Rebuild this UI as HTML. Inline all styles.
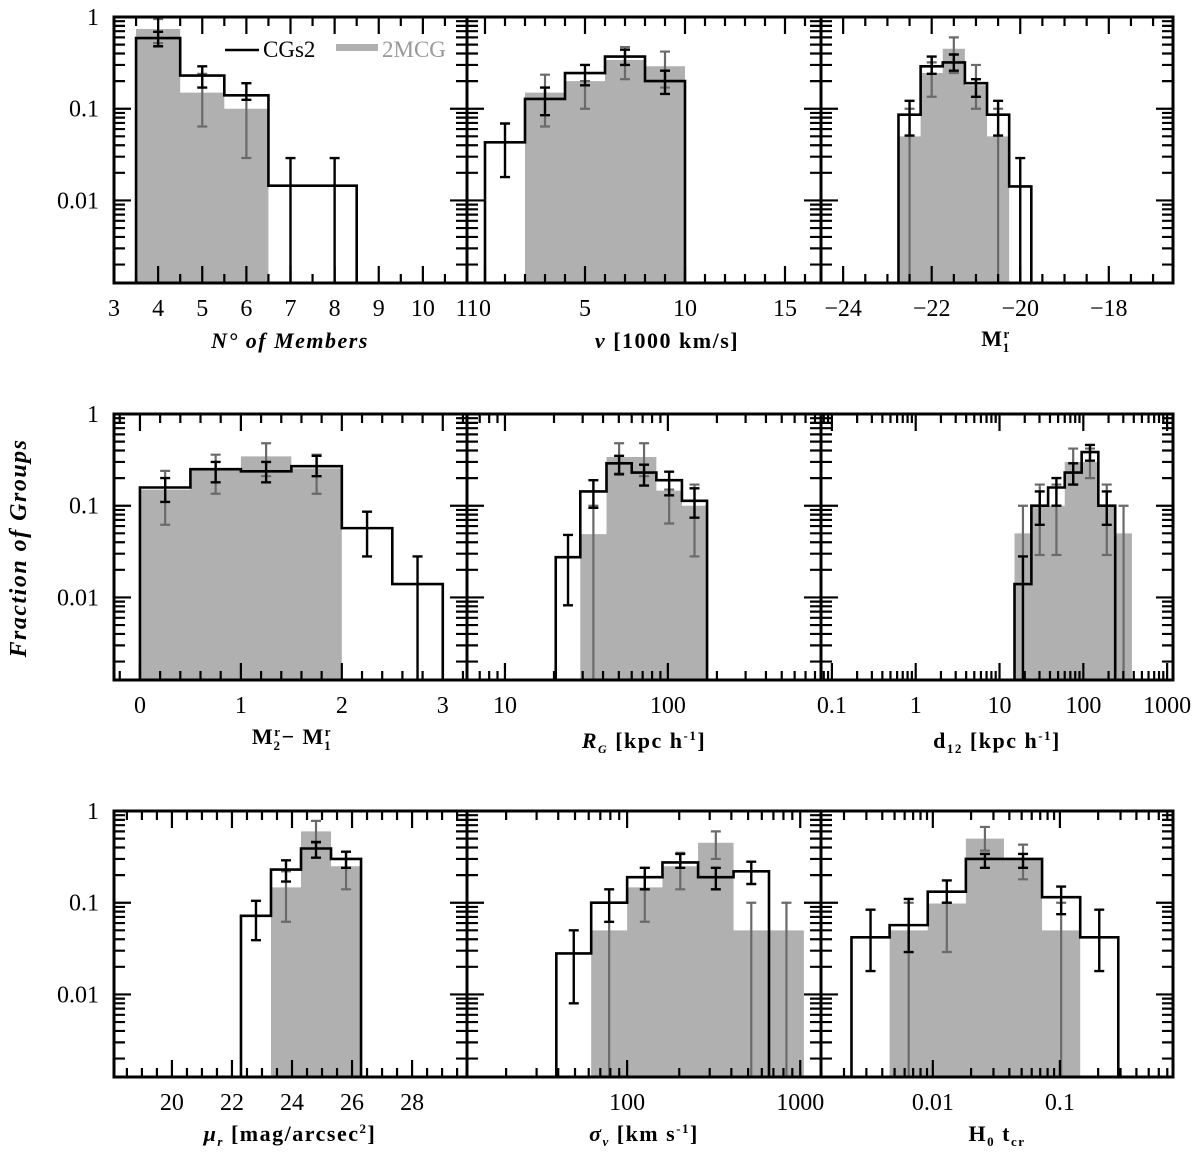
<!DOCTYPE html>
<html><head><meta charset="utf-8"><style>
html,body{margin:0;padding:0;background:#fff;}
svg{display:block;font-family:"Liberation Serif",serif;}
</style></head><body>
<svg id="chart" width="1200" height="1158" viewBox="0 0 1200 1158" xmlns="http://www.w3.org/2000/svg"></svg>
<script>
// ---- data (fractions of groups) ----
const p1Edges=[3.5,4.5,5.5,6.5,7.5,8.5];
const p1CG=[0.59,0.23,0.14,0.0145,0.0145];
const p1CGhi=[0.69,0.29,0.19,0.029,0.029];
const p1CGlo=[0.48,0.17,0.125,0,0];
const p1MEdges=[3.5,4.5,5.5,6.5];
const p1M=[0.74,0.15,0.1];
const p1Mhi=[0.95,0.24,0.19];
const p1Mlo=[0.52,0.064,0.029];

const p2Edges=[0,2,4,6,8,10];
const p2CG=[0.043,0.128,0.245,0.37,0.2];
const p2CGhi=[0.069,0.17,0.3,0.44,0.26];
const p2CGlo=[0.018,0.085,0.18,0.3,0.145];
const p2MEdges=[2,4,6,8,10];
const p2M=[0.15,0.2,0.34,0.29];
const p2Mhi=[0.235,0.2,0.47,0.42];
const p2Mlo=[0.064,0.1,0.21,0.17];

const p3Edges=[-22.75,-22.25,-21.75,-21.25,-20.75,-20.25,-19.75];
const p3CG=[0.086,0.29,0.32,0.19,0.086,0.0142];
const p3CGhi=[0.122,0.37,0.39,0.21,0.122,0.029];
const p3CGlo=[0.051,0.24,0.26,0.135,0.051,0];
const p3MEdges=[-22.75,-22.25,-21.75,-21.25,-20.75,-20.25];
const p3M=[0.05,0.245,0.45,0.18,0.05];
const p3Mhi=[0.1,0.32,0.6,0.3,0.1];
const p3Mlo=[0,0.135,0.245,0.1,0];

const p4Edges=[0,0.5,1,1.5,2,2.5,3];
const p4CG=[0.158,0.25,0.237,0.27,0.057,0.014];
const p4CGhi=[0.2,0.3,0.3,0.35,0.086,0.028];
const p4CGlo=[0.11,0.18,0.18,0.21,0.028,0];
const p4MEdges=[0,0.5,1,1.5,2];
const p4M=[0.15,0.25,0.345,0.255];
const p4Mhi=[0.24,0.36,0.48,0.36];
const p4Mlo=[0.062,0.135,0.21,0.135];

const p5Edges=[20.5,29,42,60,85,122,174];
const p5CG=[0.0275,0.143,0.29,0.23,0.19,0.113];
const p5CGhi=[0.048,0.19,0.35,0.28,0.235,0.155];
const p5CGlo=[0.0082,0.095,0.22,0.166,0.13,0.074];
const p5MEdges=[29,42,60,85,122,174];
const p5M=[0.049,0.34,0.34,0.146,0.1];
const p5Mhi=[0.1,0.48,0.48,0.15,0.17];
const p5Mlo=[0,0.225,0.21,0.064,0.028];

const p6Edges=[15.1,24,38,60,95.5,151,240];
const p6CG=[0.014,0.1,0.158,0.23,0.385,0.1];
const p6CGhi=[0.028,0.143,0.2,0.29,0.46,0.143];
const p6CGlo=[0,0.062,0.1,0.17,0.31,0.062];
const p6MEdges=[15.1,24,38,60,95.5,151,240,380];
const p6M=[0.05,0.1,0.1,0.3,0.3,0.1,0.05];
const p6Mhi=[0.1,0.17,0.17,0.42,0.42,0.17,0.1];
const p6Mlo=[0,0.029,0.029,0.17,0.2,0.029,0];

const p7Edges=[22.3,23.3,24.3,25.3,26.3];
const p7CG=[0.072,0.23,0.39,0.3];
const p7CGhi=[0.105,0.29,0.46,0.36];
const p7CGlo=[0.039,0.17,0.31,0.24];
const p7MEdges=[23.3,24.3,25.3,26.3];
const p7M=[0.147,0.6,0.25];
const p7Mhi=[0.22,0.78,0.36];
const p7Mlo=[0.062,0.45,0.14];

const p8Edges=[39,62,100,160,257,412,660];
const p8CG=[0.028,0.1,0.19,0.275,0.19,0.22];
const p8CGhi=[0.05,0.14,0.24,0.34,0.24,0.28];
const p8CGlo=[0.008,0.062,0.14,0.24,0.14,0.16];
const p8MEdges=[62,100,160,257,412,660,1050];
const p8M=[0.05,0.147,0.25,0.45,0.05,0.05];
const p8Mhi=[0.1,0.24,0.35,0.6,0.1,0.1];
const p8Mlo=[0,0.062,0.14,0.3,0,0];

const p9Edges=[0.00229,0.00457,0.00912,0.0182,0.0363,0.0724,0.1445,0.288];
const p9CG=[0.042,0.057,0.132,0.3,0.3,0.115,0.042];
const p9CGhi=[0.084,0.11,0.175,0.34,0.34,0.15,0.084];
const p9CGlo=[0.018,0.029,0.1,0.24,0.24,0.075,0.018];
const p9MEdges=[0.00457,0.00912,0.0182,0.0363,0.0724,0.1445];
const p9M=[0.05,0.098,0.5,0.3,0.05];
const p9Mhi=[0.1,0.1,0.67,0.43,0.1];
const p9Mlo=[0,0.029,0.37,0.18,0];

const yTickValues=[1,0.1,0.01];
const yTickLabels=["1","0.1","0.01"];

const p1Ticks=[3,4,5,6,7,8,9,10,11];
const p2Ticks=[0,5,10,15];
const p3Ticks=[-24,-22,-20,-18];
const p4Ticks=[0,1,2,3];
const p5Ticks=[10,100];
const p6Ticks=[0.1,1,10,100,1000];
const p7Ticks=[20,22,24,26,28];
const p8Ticks=[100,1000];
const p9Ticks=[0.01,0.1];

// ---- layout ----
const NS="http://www.w3.org/2000/svg";
const svg=document.getElementById('chart');
const colX=[114,467,821,1173];
const rowY=[17,414,811];
const PH=266, YLOGMIN=-2.9;
function mk(tag,attrs,parent){const e=document.createElementNS(NS,tag);for(const k in attrs)e.setAttribute(k,attrs[k]);(parent||svg).appendChild(e);return e;}

const panels=[
 {name:'members',r:0,c:0,log:false,d:[3,11],E:p1Edges,CG:p1CG,CGhi:p1CGhi,CGlo:p1CGlo,ME:p1MEdges,M:p1M,Mhi:p1Mhi,Mlo:p1Mlo,ticks:p1Ticks,maj:1,min:0.5},
 {name:'velocity',r:0,c:1,log:false,d:[-0.9,16.8],E:p2Edges,CG:p2CG,CGhi:p2CGhi,CGlo:p2CGlo,ME:p2MEdges,M:p2M,Mhi:p2Mhi,Mlo:p2Mlo,ticks:p2Ticks,maj:5,min:1},
 {name:'m1',r:0,c:2,log:false,d:[-24.5,-16.55],E:p3Edges,CG:p3CG,CGhi:p3CGhi,CGlo:p3CGlo,ME:p3MEdges,M:p3M,Mhi:p3Mhi,Mlo:p3Mlo,ticks:p3Ticks,maj:2,min:0.5},
 {name:'m2-m1',r:1,c:0,log:false,d:[-0.257,3.24],E:p4Edges,CG:p4CG,CGhi:p4CGhi,CGlo:p4CGlo,ME:p4MEdges,M:p4M,Mhi:p4Mhi,Mlo:p4Mlo,ticks:p4Ticks,maj:1,min:0.2},
 {name:'rg',r:1,c:1,log:true,d:[0.767,2.94],E:p5Edges,CG:p5CG,CGhi:p5CGhi,CGlo:p5CGlo,ME:p5MEdges,M:p5M,Mhi:p5Mhi,Mlo:p5Mlo,ticks:p5Ticks},
 {name:'d12',r:1,c:2,log:true,d:[-1.13,3.07],E:p6Edges,CG:p6CG,CGhi:p6CGhi,CGlo:p6CGlo,ME:p6MEdges,M:p6M,Mhi:p6Mhi,Mlo:p6Mlo,ticks:p6Ticks},
 {name:'mu-r',r:2,c:0,log:false,d:[18.07,29.83],E:p7Edges,CG:p7CG,CGhi:p7CGhi,CGlo:p7CGlo,ME:p7MEdges,M:p7M,Mhi:p7Mhi,Mlo:p7Mlo,ticks:p7Ticks,maj:2,min:0.5},
 {name:'sigma-v',r:2,c:1,log:true,d:[1.075,3.12],E:p8Edges,CG:p8CG,CGhi:p8CGhi,CGlo:p8CGlo,ME:p8MEdges,M:p8M,Mhi:p8Mhi,Mlo:p8Mlo,ticks:p8Ticks},
 {name:'h0-tcr',r:2,c:2,log:true,d:[-2.88,-0.11],E:p9Edges,CG:p9CG,CGhi:p9CGhi,CGlo:p9CGlo,ME:p9MEdges,M:p9M,Mhi:p9Mhi,Mlo:p9Mlo,ticks:p9Ticks}
];

panels.forEach(p=>{
  const x0=colX[p.c], x1=colX[p.c+1], top=rowY[p.r], bot=top+PH;
  const tx=v=>p.log?Math.log10(v):v;
  const X=v=>x0+(tx(v)-p.d[0])/(p.d[1]-p.d[0])*(x1-x0);
  const Y=v=>v<=0?bot:top+(-Math.log10(v))/(-YLOGMIN)*PH;
  const mid=(a,b)=>p.log?Math.sqrt(a*b):(a+b)/2;
  const g=mk('g',{});
  
  
  const clip=mk('clipPath',{id:'cp'+p.name},g);
  mk('rect',{x:x0,y:top,width:x1-x0,height:PH},clip);
  const inner=mk('g',{'clip-path':'url(#cp'+p.name+')'},g);
  // MCG grey bars as one filled step shape (no seams)
  let gd=`M${X(p.ME[0])},${bot}`;
  p.M.forEach((v,i)=>{gd+=`V${Y(v)}H${X(p.ME[i+1])}`;});
  gd+=`V${bot}Z`;
  const gb=mk('path',{d:gd,fill:'#b0b0b0',stroke:'none'},inner);
  
  
  // MCG error bars
  p.M.forEach((v,i)=>{
    const cx=X(mid(p.ME[i],p.ME[i+1])), yh=Y(p.Mhi[i]), yl=Y(p.Mlo[i]);
    const e=mk('path',{d:`M${cx},${yh}V${yl}M${cx-5},${yh}H${cx+5}`+(p.Mlo[i]>0?`M${cx-5},${yl}H${cx+5}`:''),stroke:'#6a6a6a','stroke-width':2.2,fill:'none'},inner);
    
    
  });
  // CG histogram
  let d=`M${X(p.E[0])},${bot}`;
  p.CG.forEach((v,i)=>{d+=`V${Y(v)}H${X(p.E[i+1])}`;});
  d+=`V${bot}`;
  const h=mk('path',{d:d,stroke:'#000','stroke-width':2.6,fill:'none'},inner);
  
  
  p.CG.forEach((v,i)=>{
    const cx=X(mid(p.E[i],p.E[i+1])), yh=Y(p.CGhi[i]), yl=Y(p.CGlo[i]);
    const e=mk('path',{d:`M${cx},${yh}V${yl}M${cx-5},${yh}H${cx+5}`+(p.CGlo[i]>0?`M${cx-5},${yl}H${cx+5}`:''),stroke:'#000','stroke-width':2.4,fill:'none'},inner);
    
    
  });
  // ticks
  let tk='';
  for(let k=-3;k<=0;k++)for(let m=1;m<=9;m++){
    const v=m*Math.pow(10,k); const y=Y(v); if(y<top-0.5||y>bot+0.5)continue;
    const L=m===1?17:11;
    tk+=`M${x0},${y}h${L}M${x1},${y}h${-L}`;
  }
  if(p.log){
    for(let k=-4;k<=4;k++)for(let m=1;m<=9;m++){
      const v=m*Math.pow(10,k); const x=X(v); if(x<x0+2||x>x1-2)continue;
      const L=m===1?17:9;
      tk+=`M${x},${bot}v${-L}M${x},${top}v${L}`;
    }
  } else {
    const n0=Math.ceil(p.d[0]/p.min-1e-6), n1=Math.floor(p.d[1]/p.min+1e-6);
    for(let n=n0;n<=n1;n++){
      const v=n*p.min; const x=X(v); if(x<x0+1||x>x1-1)continue;
      const isMaj=Math.abs(v/p.maj-Math.round(v/p.maj))<1e-6;
      const L=isMaj?17:9;
      tk+=`M${x},${bot}v${-L}M${x},${top}v${L}`;
    }
  }
  mk('path',{d:tk,stroke:'#000','stroke-width':2.2,fill:'none'},g);
  const fr=mk('rect',{x:x0,y:top,width:x1-x0,height:PH,fill:'none',stroke:'#000','stroke-width':3},g);
  
  
  p.ticks.forEach(v=>{
    const t=mk('text',{x:X(v),y:bot+33,'text-anchor':'middle','font-size':24},g);
    t.textContent=(v<0?'\u2212'+Math.abs(v):String(v));
    
    
  });
  if(p.c===0){
    yTickValues.forEach((v,i)=>{
      const t=mk('text',{x:99,y:Y(v)+8,'text-anchor':'end','font-size':24},g);
      t.textContent=yTickLabels[i];
      
      
    });
  }
});
</script>
<svg width="1200" height="1158" style="position:absolute;left:0;top:0" font-family="Liberation Serif, serif">
  <g>
    <line x1="225" y1="50" x2="259" y2="50" stroke="#000" stroke-width="2.5"/>
    <text x="263" y="57" font-size="23">CGs2</text>
    <rect x="336" y="44" width="42" height="7" fill="#b0b0b0"/>
    <text x="382" y="57" font-size="23" fill="#999">2MCG</text>
  </g>
  <text transform="translate(26,548) rotate(-90)" text-anchor="middle" font-size="24" font-style="italic" font-weight="bold" letter-spacing="1.5">Fraction of Groups</text>
  <g font-size="22" font-weight="bold" text-anchor="middle" letter-spacing="1.5">
    <text x="290" y="348" font-style="italic">N° of Members</text>
    <text x="667" y="348"><tspan font-style="italic">v</tspan> [1000 km/s]</text>
    <text x="996" y="346">M<tspan font-size="13" dy="-8">r</tspan><tspan font-size="13" dx="-8" dy="14">1</tspan></text>
    <text x="292" y="744">M<tspan font-size="13" dy="-8">r</tspan><tspan font-size="13" dx="-8" dy="14">2</tspan><tspan dy="-6">− M</tspan><tspan font-size="13" dy="-8">r</tspan><tspan font-size="13" dx="-8" dy="14">1</tspan></text>
    <text x="644" y="748"><tspan font-style="italic">R</tspan><tspan font-size="12" dy="5" font-style="italic">G</tspan><tspan dy="-5"> [kpc h</tspan><tspan font-size="13" dy="-8">-1</tspan><tspan dy="8">]</tspan></text>
    <text x="997" y="748">d<tspan font-size="13" dy="5">12</tspan><tspan dy="-5"> [kpc h</tspan><tspan font-size="13" dy="-8">-1</tspan><tspan dy="8">]</tspan></text>
    <text x="290" y="1141"><tspan font-style="italic">μ</tspan><tspan font-size="13" dy="5" font-style="italic">r</tspan><tspan dy="-5"> [mag/arcsec</tspan><tspan font-size="13" dy="-8">2</tspan><tspan dy="8">]</tspan></text>
    <text x="644" y="1141"><tspan font-style="italic">σ</tspan><tspan font-size="13" dy="5" font-style="italic">v</tspan><tspan dy="-5"> [km   s</tspan><tspan font-size="13" dy="-8">-1</tspan><tspan dy="8">]</tspan></text>
    <text x="997" y="1141">H<tspan font-size="13" dy="5">0</tspan><tspan dy="-5">  t</tspan><tspan font-size="13" dy="5">cr</tspan></text>
  </g>
</svg>
</body></html>
